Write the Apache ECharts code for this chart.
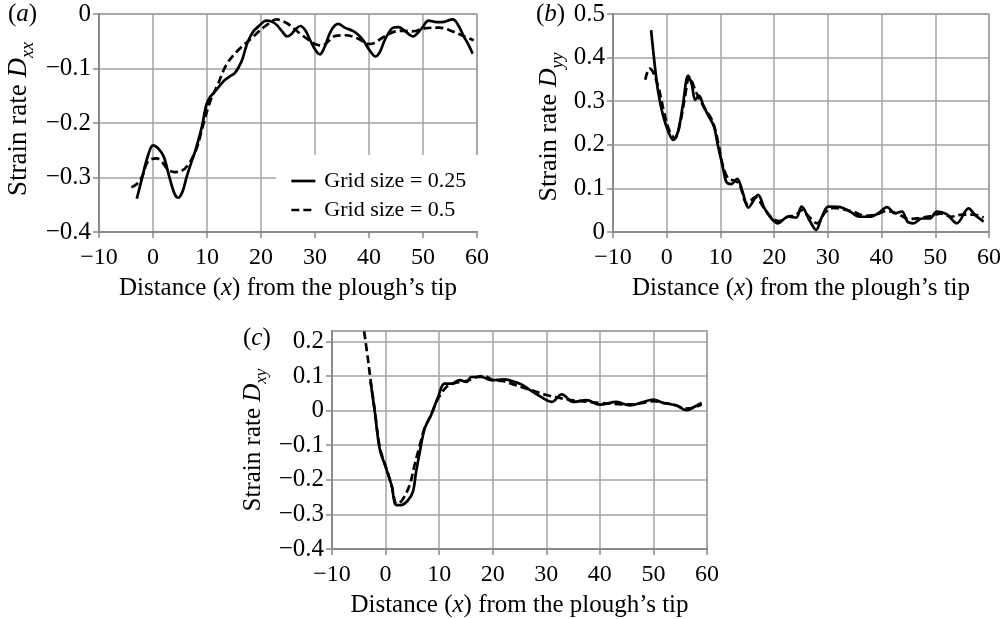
<!DOCTYPE html>
<html>
<head>
<meta charset="utf-8">
<script src="https://cdn.jsdelivr.net/npm/echarts@6/dist/echarts.min.js"></script>
<style>
html,body{margin:0;padding:0;background:#fff;}
#chart{width:1004px;height:619px;}
</style>
</head>
<body>
<div id="chart"></div>
<script>
// ---------- data ----------
const xTicks = [-10, 0, 10, 20, 30, 40, 50, 60];
const seriesNames = ['Grid size = 0.25', 'Grid size = 0.5'];

// (a) strain rate Dxx
const aFine = [[-3,-0.339],[-2,-0.30],[-1,-0.262],[0,-0.241],[1,-0.247],[2,-0.262],[3,-0.298],[4,-0.330],[4.7,-0.337],[5.5,-0.325],[6.2,-0.300],[7,-0.275],[7.8,-0.252],[9,-0.209],[9.9,-0.166],[10.6,-0.152],[11.5,-0.142],[12.5,-0.130],[13.3,-0.121],[14.3,-0.114],[15.2,-0.108],[16.4,-0.087],[17,-0.068],[17.6,-0.050],[18.5,-0.033],[19.5,-0.023],[21,-0.012],[22,-0.014],[22.9,-0.020],[24,-0.033],[24.8,-0.041],[25.5,-0.038],[26.5,-0.027],[27.3,-0.022],[28.2,-0.030],[29.2,-0.050],[30.2,-0.068],[30.9,-0.074],[31.8,-0.060],[33,-0.030],[34.3,-0.018],[35.5,-0.025],[37,-0.031],[38,-0.038],[39,-0.049],[40.2,-0.068],[41.2,-0.078],[42,-0.070],[43,-0.046],[44.5,-0.025],[45.5,-0.024],[46.5,-0.030],[48.2,-0.041],[49,-0.035],[50,-0.023],[51,-0.012],[52.5,-0.015],[53.5,-0.015],[55.5,-0.010],[56.5,-0.020],[57.5,-0.040],[58.5,-0.058],[59.2,-0.073]];
const aCoarse = [[-4,-0.318],[-3,-0.312],[-2,-0.298],[-0.9,-0.270],[0.7,-0.265],[1.8,-0.273],[2.8,-0.286],[4,-0.290],[5,-0.289],[6.5,-0.277],[8.1,-0.246],[9.3,-0.203],[10.6,-0.160],[12.1,-0.127],[13.6,-0.093],[15.8,-0.066],[18.3,-0.044],[20.7,-0.023],[22.9,-0.010],[24.8,-0.017],[26,-0.026],[27.5,-0.038],[29,-0.049],[30,-0.055],[31.3,-0.058],[32.5,-0.050],[33.8,-0.040],[35.6,-0.039],[37.7,-0.044],[40.2,-0.055],[41,-0.053],[42.4,-0.044],[44.9,-0.032],[46.5,-0.031],[48,-0.032],[50.5,-0.026],[53,-0.025],[55.5,-0.032],[57.6,-0.041],[59.4,-0.048]];

// (b) strain rate Dyy
const bFine = [[-2.9,0.463],[-2.3,0.391],[-1.6,0.322],[-0.7,0.268],[0.3,0.230],[1.2,0.211],[2.1,0.230],[3.0,0.291],[4.0,0.359],[4.7,0.337],[5.3,0.303],[6.0,0.313],[6.8,0.291],[7.7,0.268],[8.8,0.242],[9.5,0.200],[10.5,0.146],[11.1,0.115],[12.0,0.110],[13.1,0.122],[14.2,0.089],[15.2,0.056],[17.0,0.085],[18.2,0.054],[19.5,0.031],[20.7,0.020],[22.6,0.035],[24.1,0.033],[25.1,0.058],[26.7,0.024],[27.8,0.005],[28.9,0.035],[30.1,0.058],[32.3,0.057],[34.1,0.047],[36.0,0.035],[37.8,0.035],[39.4,0.043],[41.0,0.057],[42.5,0.043],[43.8,0.047],[44.8,0.024],[45.9,0.020],[47.5,0.031],[49.0,0.031],[50.3,0.047],[52.1,0.041],[54.0,0.020],[56.2,0.054],[57.4,0.039],[59.0,0.024]];
const bCoarse = [[-4.0,0.349],[-3.2,0.375],[-2.6,0.368],[-1.5,0.330],[-0.5,0.275],[0.5,0.232],[1.5,0.215],[2.5,0.250],[3.4,0.310],[4.2,0.355],[5.5,0.320],[7,0.285],[8.5,0.255],[9.5,0.210],[10.5,0.150],[11.5,0.122],[12.5,0.118],[13.5,0.110],[15,0.065],[16.5,0.080],[18,0.057],[19.5,0.033],[21,0.025],[22.5,0.035],[24,0.038],[25,0.050],[26.5,0.035],[28,0.020],[29.5,0.045],[31,0.055],[33,0.052],[35,0.045],[37,0.037],[39,0.040],[41,0.048],[43,0.042],[45,0.030],[47,0.032],[49,0.036],[51,0.042],[53,0.035],[55,0.040],[57,0.040],[59,0.033]];

// (c) strain rate Dxy
const cFine = [[-2.8,0.083],[-2.0,-0.004],[-1.1,-0.110],[0.1,-0.167],[1.1,-0.215],[2.0,-0.273],[2.9,-0.273],[4.2,-0.259],[5.1,-0.235],[5.7,-0.177],[6.4,-0.119],[7.3,-0.052],[8.5,-0.013],[9.8,0.039],[11.0,0.078],[12.3,0.078],[13.8,0.088],[15.1,0.083],[16.0,0.097],[17.9,0.097],[19.7,0.088],[22.2,0.090],[24.1,0.083],[25.7,0.073],[27.0,0.059],[29.5,0.035],[31.0,0.025],[32.9,0.047],[35.0,0.025],[37.5,0.030],[40.0,0.017],[43.1,0.025],[45.6,0.015],[48.1,0.025],[50.0,0.032],[51.8,0.022],[54.3,0.015],[56.2,0.001],[57.4,0.009],[59.0,0.022]];
const cCoarse = [[-4.0,0.229],[-3.3,0.150],[-2.8,0.088],[-2.0,-0.002],[-1.1,-0.105],[0.1,-0.165],[1.1,-0.215],[2.1,-0.270],[3.1,-0.259],[4.5,-0.215],[5.4,-0.158],[6.4,-0.100],[7.3,-0.050],[8.5,-0.012],[9.8,0.035],[11.5,0.070],[13,0.080],[15,0.085],[17,0.097],[18.5,0.100],[20,0.088],[22,0.085],[24,0.075],[26,0.065],[28,0.055],[30,0.045],[32,0.038],[34,0.032],[36,0.028],[38,0.025],[40,0.022],[42,0.020],[44,0.018],[46,0.018],[48,0.022],[50,0.027],[52,0.022],[54,0.016],[56,0.006],[57.5,0.008],[59,0.018]];

const yTicksA = [-0.4, -0.3, -0.2, -0.1, 0];
const yTicksB = [0, 0.1, 0.2, 0.3, 0.4, 0.5];
const yTicksC = [-0.4, -0.3, -0.2, -0.1, 0, 0.1, 0.2];

// ---------- styling ----------
const FONT = '"Liberation Serif","Times New Roman",serif';
const GRIDC = '#a3a3a3';
const AXISC = '#8a8a8a';

function fmtNum(v, dec) {
  const r = Math.round(v * 1000) / 1000;
  if (Math.abs(r) < 1e-9) return '0';
  const s = Math.abs(r).toFixed(dec);
  return (r < 0 ? '\u2212' : '') + s;
}

const grids = [
  {left: 99, top: 14, width: 378, height: 218},
  {left: 613, top: 14, width: 376, height: 218},
  {left: 332, top: 331, width: 375, height: 218}
].map(g => Object.assign(g, {show: true, borderColor: GRIDC, borderWidth: 1.5, backgroundColor: 'rgba(0,0,0,0)'}));

function xAxisFor(i) {
  return {
    type: 'value', gridIndex: i, min: xTicks[0], max: xTicks[xTicks.length - 1], interval: 10,
    axisLine: {show: true, onZero: false, lineStyle: {color: AXISC, width: 2}},
    axisTick: {show: true, length: 6, lineStyle: {color: AXISC, width: 1.5}},
    splitLine: {show: true, lineStyle: {color: GRIDC, width: 1.5}},
    axisLabel: {fontFamily: FONT, fontSize: 24, color: '#000', margin: 14, formatter: v => fmtNum(v, 0)},
    name: 'Distance ({i|x}) from the plough\u2019s tip',
    nameLocation: 'middle', nameGap: 44,
    nameTextStyle: {fontFamily: FONT, fontSize: 25, color: '#000',
      rich: {i: {fontFamily: FONT, fontSize: 25, fontStyle: 'italic', color: '#000'}}}
  };
}

function yRich(fs) {
  const sub = Math.round(fs * 0.68);
  return {
    t: {fontFamily: FONT, fontSize: fs, color: '#000', lineHeight: fs + 9, verticalAlign: 'middle'},
    d: {fontFamily: FONT, fontSize: fs, fontStyle: 'italic', color: '#000', lineHeight: fs + 9, verticalAlign: 'middle'},
    s: {fontFamily: FONT, fontSize: sub, fontStyle: 'italic', color: '#000', lineHeight: sub, verticalAlign: 'bottom'}
  };
}

function yAxisFor(i, ticks, max, sub, gap, pad, fs) {
  return {
    type: 'value', gridIndex: i, min: ticks[0], max: max, interval: 0.1,
    axisLine: {show: true, onZero: false, lineStyle: {color: AXISC, width: 2}},
    axisTick: {show: true, length: 6, lineStyle: {color: AXISC, width: 1.5}},
    splitLine: {show: true, lineStyle: {color: GRIDC, width: 1.5}},
    axisLabel: {fontFamily: FONT, fontSize: 25, color: '#000', margin: 8,
      showMaxLabel: max === ticks[ticks.length - 1],
      formatter: v => fmtNum(v, 1)},
    name: '{t|Strain rate }{d|D}{s|' + sub + '}',
    nameLocation: 'middle', nameGap: gap,
    nameTextStyle: {padding: pad, rich: yRich(fs)}
  };
}

function lineSeries(name, data, gi, dashed) {
  return {
    name: name, type: 'line', xAxisIndex: gi, yAxisIndex: gi, data: data,
    smooth: 0.35, symbol: 'none', showSymbol: false, clip: true,
    lineStyle: {color: '#000', width: 2.7, type: dashed ? [8, 4] : 'solid'},
    itemStyle: {color: '#000'},
    animation: false
  };
}

const panelRich = {
  n: {fontFamily: FONT, fontSize: 25, fill: '#000'},
  i: {fontFamily: FONT, fontSize: 25, fontStyle: 'italic', fill: '#000'}
};

const option = {
  backgroundColor: '#fff',
  animation: false,
  grid: grids,
  xAxis: [xAxisFor(0), xAxisFor(1), xAxisFor(2)],
  yAxis: [
    yAxisFor(0, yTicksA, 0, 'xx', 62, [0, 0, 0, 8], 27),
    yAxisFor(1, yTicksB, 0.5, 'yy', 46, [0, 8, 0, 0], 26),
    yAxisFor(2, yTicksC, 0.23, 'xy', 62, [0, 0, 0, 0], 25)
  ],
  legend: {
    data: seriesNames,
    left: 276, top: 155, orient: 'vertical',
    backgroundColor: '#fff',
    padding: [15, 14, 10, 14],
    itemGap: 7, itemWidth: 24, itemHeight: 14,
    itemStyle: {color: 'rgba(0,0,0,0)', borderWidth: 0, opacity: 0},
    lineStyle: {color: '#000', width: 2.7},
    textStyle: {fontFamily: FONT, fontSize: 22, color: '#000', padding: [0, 0, 0, 4]}
  },
  graphic: [
    {type: 'text', left: 8, top: 2, style: {text: '{n|(}{i|a}{n|)}', rich: panelRich}},
    {type: 'text', left: 536, top: 2, style: {text: '{n|(}{i|b}{n|)}', rich: panelRich}},
    {type: 'text', left: 243, top: 326, style: {text: '{n|(}{i|c}{n|)}', rich: panelRich}}
  ],
  series: [
    lineSeries(seriesNames[0], aFine, 0, false),
    lineSeries(seriesNames[1], aCoarse, 0, true),
    lineSeries(seriesNames[0], bFine, 1, false),
    lineSeries(seriesNames[1], bCoarse, 1, true),
    lineSeries(seriesNames[0], cFine, 2, false),
    lineSeries(seriesNames[1], cCoarse, 2, true)
  ]
};

const chart = echarts.init(document.getElementById('chart'), null, {renderer: 'canvas'});
chart.setOption(option);
</script>
</body>
</html>
